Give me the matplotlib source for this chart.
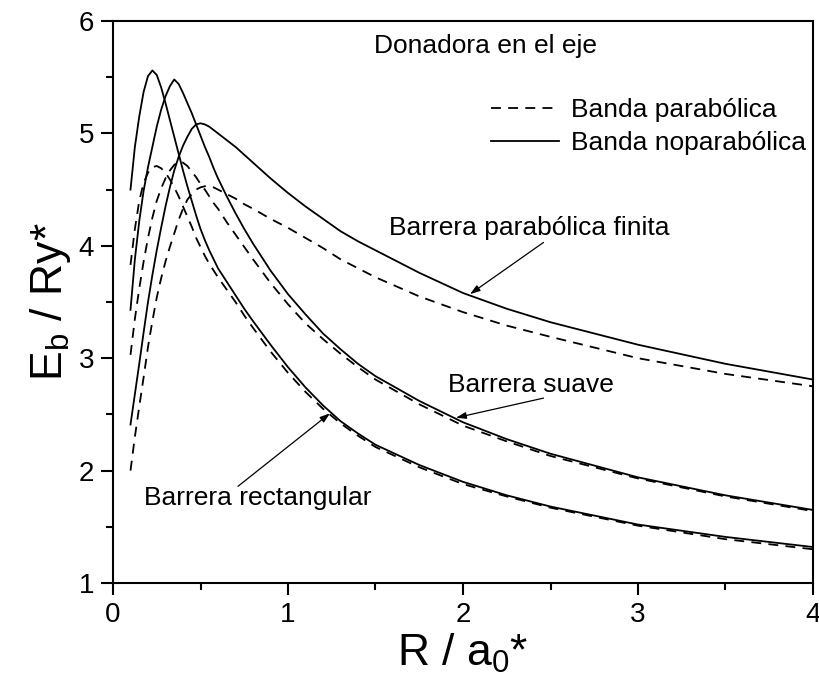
import matplotlib
matplotlib.use('Agg')
import matplotlib.pyplot as plt

plt.rcParams['font.family'] = ['Liberation Sans', 'DejaVu Sans']
plt.rcParams['mathtext.default'] = 'regular'

# R / a0* values (shared by all six curves)
r = [0.1, 0.125, 0.15, 0.175, 0.2, 0.225, 0.25, 0.275, 0.3, 0.325, 0.35, 0.375, 0.4,
     0.425, 0.45, 0.475, 0.5, 0.525, 0.55, 0.575, 0.6, 0.65, 0.7, 0.75, 0.8, 0.9, 1.0,
     1.1, 1.2, 1.3, 1.4, 1.5, 1.75, 2.0, 2.25, 2.5, 3.0, 3.5, 4.0]

# Barrera rectangular
rect_nopar = [4.50, 4.88, 5.15, 5.37, 5.51, 5.56, 5.52, 5.41, 5.27, 5.12, 4.97, 4.82, 4.67,
              4.53, 4.40, 4.27, 4.15, 4.05, 3.96, 3.88, 3.80, 3.68, 3.56, 3.44, 3.33, 3.12, 2.92,
              2.74, 2.58, 2.44, 2.33, 2.23, 2.05, 1.90, 1.78, 1.68, 1.52, 1.41, 1.32]
rect_par = [3.83, 4.15, 4.40, 4.56, 4.65, 4.70, 4.71, 4.69, 4.65, 4.59, 4.52, 4.44, 4.35,
            4.26, 4.17, 4.07, 3.99, 3.91, 3.84, 3.78, 3.72, 3.61, 3.50, 3.38, 3.27, 3.06, 2.87,
            2.70, 2.55, 2.42, 2.31, 2.21, 2.03, 1.88, 1.77, 1.67, 1.51, 1.39, 1.30]

# Barrera suave
suave_nopar = [3.43, 3.88, 4.22, 4.49, 4.70, 4.88, 5.06, 5.21, 5.33, 5.42, 5.48, 5.44, 5.36,
               5.27, 5.18, 5.08, 4.98, 4.88, 4.79, 4.69, 4.60, 4.44, 4.29, 4.15, 4.02, 3.78, 3.57,
               3.39, 3.22, 3.08, 2.95, 2.84, 2.62, 2.43, 2.28, 2.15, 1.94, 1.78, 1.65]
suave_par = [3.03, 3.35, 3.62, 3.86, 4.07, 4.25, 4.40, 4.51, 4.60, 4.67, 4.72, 4.75, 4.74,
             4.71, 4.66, 4.61, 4.55, 4.50, 4.44, 4.38, 4.33, 4.21, 4.10, 3.99, 3.88, 3.67, 3.48,
             3.31, 3.17, 3.04, 2.92, 2.81, 2.59, 2.40, 2.26, 2.13, 1.93, 1.77, 1.64]

# Barrera parabolica finita
finita_nopar = [2.41, 2.68, 2.95, 3.23, 3.50, 3.74, 3.96, 4.16, 4.35, 4.52, 4.67, 4.79, 4.89,
                4.97, 5.04, 5.08, 5.09, 5.08, 5.06, 5.03, 5.00, 4.94, 4.88, 4.81, 4.74, 4.60, 4.47,
                4.35, 4.24, 4.13, 4.04, 3.96, 3.76, 3.58, 3.44, 3.32, 3.12, 2.95, 2.81]
finita_par = [2.00, 2.30, 2.57, 2.83, 3.10, 3.33, 3.54, 3.71, 3.86, 3.99, 4.11, 4.23, 4.33,
              4.41, 4.46, 4.50, 4.52, 4.53, 4.53, 4.52, 4.50, 4.46, 4.42, 4.37, 4.33, 4.24, 4.16,
              4.07, 3.98, 3.88, 3.80, 3.72, 3.55, 3.41, 3.29, 3.19, 3.00, 2.86, 2.75]

fig = plt.figure(figsize=(8.2, 6.88), dpi=100)
ax = fig.add_axes([113/820, 1 - 583/688, 700/820, 562/688])

dash = (5.5, 4)
lw = 1.3
for ys in [rect_par, suave_par, finita_par]:
    ax.plot(r, ys, color='black', lw=lw, dashes=dash)
for ys in [rect_nopar, suave_nopar, finita_nopar]:
    ax.plot(r, ys, color='black', lw=lw)

# legend entries
ax.plot([], [], color='black', lw=lw, dashes=dash, label='Banda parabólica')
ax.plot([], [], color='black', lw=lw, label='Banda noparabólica')
ax.legend(loc='upper right', bbox_to_anchor=(0.99, 0.863), frameon=False, fontsize=19,
          handlelength=2.6, handletextpad=0.45, labelspacing=0.36, borderaxespad=0, borderpad=0)

ax.text(2.13, 5.78, 'Donadora en el eje', fontsize=19, ha='center', va='center')

arr = dict(arrowstyle='-|>,head_length=0.6,head_width=0.2', color='black', lw=0.9,
           shrinkA=0, shrinkB=0)
ax.text(2.38, 4.16, 'Barrera parabólica finita', fontsize=19, ha='center', va='center')
ax.annotate('', xy=(2.04, 3.57), xytext=(2.46, 4.03), arrowprops=arr)
ax.text(2.39, 2.76, 'Barrera suave', fontsize=19, ha='center', va='center')
ax.annotate('', xy=(1.96, 2.47), xytext=(2.46, 2.645), arrowprops=arr)
ax.text(0.826, 1.76, 'Barrera rectangular', fontsize=19, ha='center', va='center')
ax.annotate('', xy=(1.24, 2.51), xytext=(0.714, 1.86), arrowprops=arr)

ax.set_xlim(0, 4)
ax.set_ylim(1, 6)
ax.set_xticks([0, 1, 2, 3, 4])
ax.set_xticks([0.5, 1.5, 2.5, 3.5], minor=True)
ax.set_yticks([1, 2, 3, 4, 5, 6])
ax.set_yticks([1.5, 2.5, 3.5, 4.5, 5.5], minor=True)
ax.tick_params(which='both', direction='out', top=False, right=False, labelsize=20, width=1.5, pad=5)
ax.tick_params(which='major', length=8.5)
ax.tick_params(which='minor', length=5)
for s in ax.spines.values():
    s.set_linewidth(1.5)

ax.set_xlabel('R / a$_0$*', fontsize=32, labelpad=3)
ax.set_ylabel('E$_b$ / Ry*', fontsize=32, labelpad=4)

fig.savefig('out.png', dpi=100)
